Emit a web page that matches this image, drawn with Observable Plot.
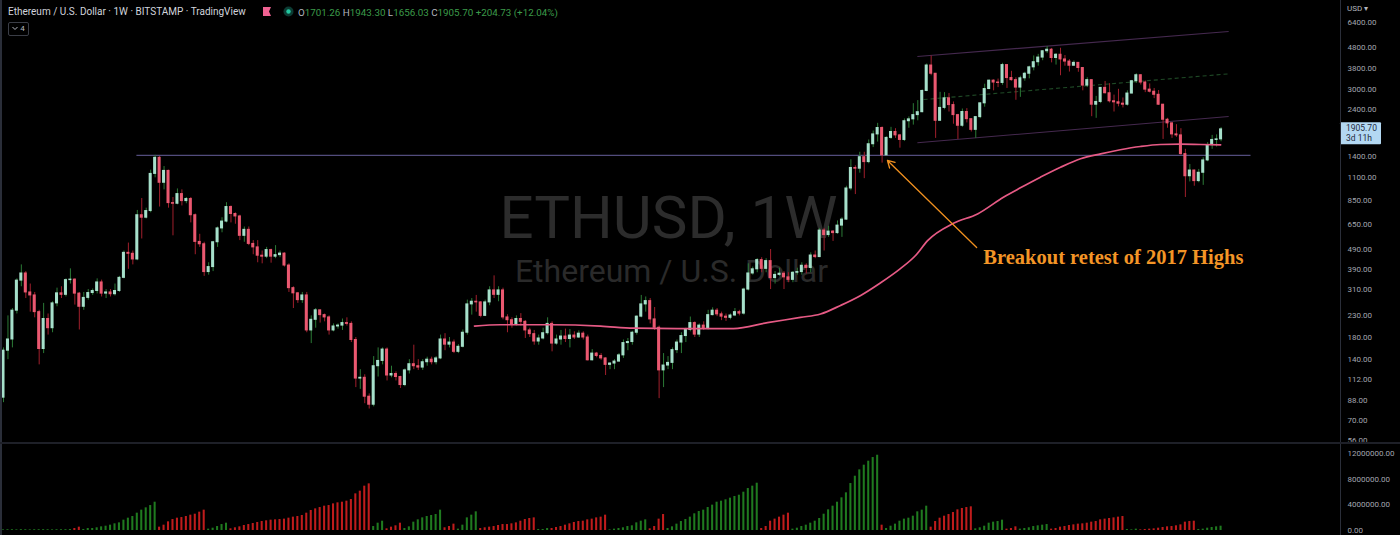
<!DOCTYPE html>
<html><head><meta charset="utf-8">
<script src="https://cdn.jsdelivr.net/npm/d3@7"></script>
<script src="https://cdn.jsdelivr.net/npm/@observablehq/plot@0.6"></script>
<style>
body{margin:0;background:#000;}
#root{position:relative;width:1400px;height:535px;background:#000;overflow:hidden;font-family:Roboto,"Noto Sans",sans-serif;}
#price{position:absolute;left:0;top:0;}
#vol{position:absolute;left:0;top:444px;}
.abs{position:absolute;white-space:nowrap;}
#hdr{left:8px;top:6px;font-size:10px;color:#d1d4dc;}
#ohlc{left:298px;top:7px;font-size:9.8px;color:#b2b5be;}
#ohlc b{font-weight:normal;color:#3c9b4a;}
#vline{left:1340px;top:0;width:1px;height:535px;background:#2a2e39;}
#hline{left:0;top:442px;width:1400px;height:2px;background:#1e2028;}
#lline{left:0;top:0;width:2px;height:535px;background:#2a2e39;}
#usd{left:1347px;top:4px;font-size:8px;color:#b2b5be;}
#box4{left:8px;top:22px;width:19px;height:12px;border:1px solid #3a3d46;border-radius:2px;font-size:8px;color:#b2b5be;line-height:12px;text-align:center;}
</style></head><body>
<div id="root">
  <div id="price"></div>
  <div id="vol"></div>
  <div class="abs" id="lline"></div>
  <div class="abs" id="vline"></div>
  <div class="abs" id="hline"></div>
  <div class="abs" id="hdr">Ethereum / U.S. Dollar · 1W · BITSTAMP · TradingView</div>
  <svg class="abs" style="left:263px;top:7px" width="9" height="10"><path d="M0,0H8L6,4.5L8,9H0Z" fill="#f06292"/></svg>
  <svg class="abs" style="left:283px;top:6px" width="11" height="11"><circle cx="5.5" cy="5.5" r="5" fill="#0c3b33"/><circle cx="5.5" cy="5.5" r="2.2" fill="#22c7a0"/></svg>
  <div class="abs" id="ohlc">O<b>1701.26</b> H<b>1943.30</b> L<b>1656.03</b> C<b>1905.70</b> <b>+204.73 (+12.04%)</b></div>
  <div class="abs" id="box4"><svg width="6" height="5" style="vertical-align:middle"><polyline points="0.5,1 3,3.5 5.5,1" fill="none" stroke="#b2b5be" stroke-width="1"/></svg> 4</div>
  <div class="abs" id="usd">USD ▾</div>
</div>
<script>
// ---- data: weekly ETH/USD candles (index 0 = week of 2017-05-15) ----
const opens = [
91,155,176,244,343,372,300,290,240,158,
222,200,265,297,292,345,347,296,255,282,
298,305,336,296,300,294,305,354,470,465,
436,720,700,755,1150,1380,1040,1190,826,820,
915,845,865,720,532,518,378,400,530,620,
670,790,730,710,570,610,520,500,455,450,
485,450,458,466,407,315,297,275,290,195,
220,245,232,226,195,204,206,212,210,175,
113,114,92,84,130,138,157,117,119,115,
105,124,133,130,128,136,140,136,142,176,
166,170,153,162,190,262,270,268,230,268,
307,292,307,226,219,208,222,215,195,187,
172,178,189,210,168,176,182,177,184,180,
188,180,139,150,146,142,132,134,137,147,
169,171,190,228,262,272,221,201,124,131,
135,156,170,183,196,212,186,206,200,232,
244,234,228,225,231,240,236,310,372,390,
433,392,428,353,366,371,356,346,375,378,
406,396,456,448,605,575,598,588,640,685,
975,1230,1220,1390,1315,1610,1800,1935,1420,1730,
1850,1780,1690,2090,2135,2240,2315,2945,3930,3580,
2100,2430,2710,2510,2240,1985,2320,2140,1895,2190,
2560,3010,3310,3240,3225,3950,3410,3330,3060,3400,
3580,3850,4080,4300,4620,4700,4280,4440,4210,4110,
3920,4050,3820,3130,3330,2520,2600,3050,2870,2620,
2590,2550,2520,2860,3290,3520,3240,2990,2920,2820,
2520,2125,2040,1800,1780,1440,1120,1195,1060,1165,
1340,1595,1690,1701.26];
const closes = [
155,176,244,343,372,300,290,240,158,222,
200,265,297,292,345,347,296,255,282,298,
305,336,296,300,294,305,354,470,465,436,
720,700,755,1150,1380,1040,1190,826,820,915,
845,865,720,532,518,378,400,530,620,670,
790,730,710,570,610,520,500,455,450,485,
450,458,466,407,315,297,275,290,195,220,
245,232,226,195,204,206,212,210,175,113,
114,92,84,130,138,157,117,119,115,105,
124,133,130,128,136,140,136,142,176,166,
170,153,162,190,262,270,268,230,268,307,
292,307,226,219,208,222,215,195,187,172,
178,189,210,168,176,182,177,184,180,188,
180,139,150,146,142,132,134,137,147,169,
171,190,228,262,272,221,201,124,131,135,
156,170,183,196,212,186,206,200,232,244,
234,228,225,231,240,236,310,372,390,433,
392,428,353,366,371,356,346,375,378,406,
396,456,448,605,575,598,588,640,685,975,
1230,1220,1390,1315,1610,1800,1935,1420,1730,1850,
1780,1690,2090,2135,2240,2315,2945,3930,3580,2100,
2430,2710,2510,2240,1985,2320,2140,1895,2190,2560,
3010,3310,3240,3225,3950,3410,3330,3060,3400,3580,
3850,4080,4300,4620,4700,4280,4440,4210,4110,3920,
4050,3820,3130,3330,2520,2600,3050,2870,2620,2590,
2550,2520,2860,3290,3520,3240,2990,2920,2820,2520,
2125,2040,1800,1780,1440,1120,1195,1060,1165,1340,
1595,1690,1701.26,1905.70];
const highs = [
160,230,250,350,410,380,330,300,245,265,
235,270,315,320,350,392,350,300,300,310,
312,350,345,310,310,330,360,480,525,480,
760,870,780,1200,1420,1400,1250,1200,880,970,
960,880,880,730,580,530,420,535,630,700,
830,800,740,720,630,630,540,540,480,500,
490,510,480,470,415,320,300,300,300,230,
250,245,235,230,210,210,222,225,215,180,
125,118,95,145,160,160,160,130,122,116,
126,140,165,140,140,144,144,145,185,188,
180,175,166,196,275,280,290,270,275,320,
362,320,315,233,225,230,236,218,200,195,
185,200,225,215,185,195,198,197,192,194,
192,185,157,152,150,143,135,140,150,175,
178,193,230,290,285,280,253,205,150,145,
160,175,190,200,227,215,210,215,245,252,
250,240,235,235,250,245,315,415,400,440,
445,440,488,380,395,380,375,380,395,420,
415,470,480,620,620,635,605,675,700,1000,
1350,1260,1470,1470,1690,1870,2040,1960,1750,1950,
1920,1800,2145,2195,2550,2640,2980,4000,4380,3590,
2900,2890,2860,2600,2260,2400,2410,2140,2200,2580,
3180,3330,3340,3370,4030,3970,3680,3420,3480,3640,
3900,4380,4460,4660,4870,4770,4500,4780,4400,4200,
4140,4050,3830,3420,3330,2770,3060,3280,3200,2810,
3000,2720,2950,3320,3580,3550,3300,3190,3030,2960,
2530,2160,2050,2010,1920,1520,1280,1200,1210,1380,
1640,1780,1790,1943.30];
const lows = [
86,140,160,235,320,280,240,225,132,150,
185,190,255,280,285,330,260,196,245,275,
290,295,285,280,285,288,300,350,390,410,
430,550,690,740,1100,790,960,780,570,810,
800,820,660,460,500,360,365,380,500,590,
660,660,650,540,530,510,460,420,415,440,
418,440,445,400,300,250,265,265,190,168,
200,212,215,185,192,198,195,205,170,102,
100,85,80,82,115,132,110,114,110,101,
103,119,125,124,124,130,132,132,140,155,
160,150,150,160,185,232,240,225,228,258,
280,270,220,190,200,205,205,178,180,165,
165,175,185,153,165,165,170,160,176,178,
175,138,138,143,139,117,125,125,136,142,
155,165,185,225,240,210,195,90,102,125,
125,150,150,170,192,180,180,195,196,230,
228,218,216,220,228,230,232,305,365,375,
375,375,310,330,360,310,335,335,365,365,
370,375,440,445,480,560,535,580,560,680,
950,910,1160,1090,1290,1550,1650,1300,1410,1700,
1720,1540,1660,1930,2000,2100,2300,2920,3500,1720,
2100,2380,2320,2020,1700,1950,2050,1850,1720,2150,
2450,2990,2950,3060,3140,3030,3290,2650,2740,3290,
3380,3700,3900,4150,4500,4050,3950,3500,3900,3650,
3900,3640,2950,3060,2200,2160,2550,2850,2570,2320,
2460,2430,2480,2850,3210,3150,2890,2880,2700,2500,
1700,1930,1720,1740,1420,880,1050,1000,1040,1010,
1320,1520,1560,1656.03];

// volume indicator (millions) and its colour runs
const volumes = [
0.10,0.12,0.12,0.10,0.13,0.12,0.10,0.12,0.12,0.13,0.12,0.10,0.12,0.12,0.13,0.15,
0.31,0.52,
0.16,0.31,0.31,0.42,0.57,0.67,0.83,1.04,1.19,1.61,1.92,2.18,2.70,3.17,3.53,3.89,4.41,
0.52,0.83,1.35,1.71,1.92,2.02,2.18,2.39,2.54,2.86,3.17,
0.21,0.36,0.62,0.93,1.14,
0.26,0.42,0.57,0.78,0.93,1.09,1.25,1.40,1.51,1.61,1.66,1.71,1.77,1.92,2.08,2.18,2.34,2.70,3.12,3.37,3.58,3.79,3.89,4.15,4.31,4.41,4.57,4.83,5.71,6.13,6.91,7.27,
0.62,1.14,1.45,
0.26,0.52,0.73,1.14,
0.31,0.57,1.30,1.66,1.97,2.18,2.34,2.49,3.17,
0.42,0.62,0.99,
0.21,0.83,1.97,2.39,2.91,
0.31,0.42,0.52,0.62,0.78,0.93,0.93,1.04,1.19,1.45,1.71,1.87,1.97,
0.16,0.16,0.31,
0.31,0.47,0.62,0.83,1.04,1.25,1.40,1.45,1.66,1.77,1.97,2.08,2.39,
0.10,0.21,0.31,0.42,0.62,0.73,1.19,1.45,1.66,
0.26,0.62,1.77,2.49,
0.31,0.57,0.99,1.40,1.71,2.08,2.60,2.96,3.17,3.58,3.95,4.41,4.57,4.78,5.04,5.30,5.50,5.97,6.54,6.91,7.37,
0.31,0.62,1.45,1.77,2.08,2.39,2.70,
0.21,0.36,0.62,0.83,1.14,1.45,1.87,2.54,3.22,3.79,4.41,5.09,5.87,7.32,8.46,9.45,10.18,10.80,11.37,11.73,
0.83,
0.31,0.67,0.99,1.45,1.77,1.92,2.23,2.91,3.17,3.79,
0.52,1.40,1.92,2.23,2.49,2.80,3.22,3.43,3.58,3.69,
0.26,0.42,0.67,1.14,1.30,1.40,1.61,
0.21,0.31,0.57,
0.21,0.31,0.42,0.62,0.73,0.83,0.93,
0.21,0.31,0.52,0.62,0.78,0.88,0.99,1.04,1.14,1.30,1.40,1.66,1.77,1.87,1.97,2.08,2.18,
0.16,0.10,0.21,
0.10,0.16,0.21,0.26,0.36,0.47,0.57,0.62,0.73,0.88,1.30,1.40,1.45,
0.16,0.21,0.36,0.47,0.57,0.67];
const volRuns = [["g",16],["r",2],["g",17],["r",11],["g",5],["r",32],["g",3],["r",4],["g",9],["r",3],["g",5],["r",13],["g",3],["r",13],["g",9],["r",4],["g",21],["r",7],["g",20],["r",1],["g",10],["r",10],["g",7],["r",3],["g",7],["r",17],["g",3],["r",13],["g",6]];

// moving average (candle index, price)
const maIdx = [105.6,111.4,122.6,133.9,141.3,151.1,163.7,171.3,178.7,183.2,187.7,192.2,196.6,201.1,204.5,207.2,213,218.4,224.2,228,232.5,237,241.5,246,250.4,254.9,259.4,263.9,268.4,272.9];
const maVal = [205,208,208,205,200,199,199,213,226,235,259,290,334,393,456,540,657,731,883,982,1108,1240,1365,1444,1512,1569,1605,1611,1605,1599];

// drawings
const levelLine = [{x1:29.8, x2:279.6, p1:1420, p2:1420}];
const channelLines = [
  {x1:204.9, p1:4353, x2:274.7, p2:5779},
  {x1:204.9, p1:1636, x2:274.7, p2:2205}];
const channelMid = [{x1:206.3, p1:2673, x2:274.9, p2:3578}];
const arrowLine = [{x1:218.2, p1:499, x2:198.2, p2:1339}];
const annotation = [{x:219.7, p:446, text:"Breakout retest of 2017 Highs"}];

const priceTicks = [6400,4800,3800,3000,2400,1400,1100,850,650,490,390,310,230,180,140,112,88,70,56];
const volTicks = [0,4,8,12];
const volTickLabels = ["0.00","4000000.00","8000000.00","12000000.00"];
const lastPrice = 1905.70, lastLabel2 = "3d 11h";
const watermark = ["ETHUSD, 1W"], watermarkSub = ["Ethereum / U.S. Dollar"];

// ---- build ----
const candles = closes.map((c,i)=>({i, o:opens[i], h:highs[i], l:lows[i], c, up:c>=opens[i]}));
const ups = candles.filter(d=>d.up), downs = candles.filter(d=>!d.up);
const dirs = volRuns.flatMap(([d,n])=>Array(n).fill(d));
const vols = volumes.map((v,i)=>({i, v, d:dirs[i]}));
const maData = maIdx.map((x,k)=>({x, p:maVal[k]}));

const X = {domain:[-0.6726, 299.78], range:[0,1340], axis:null};
const UPB="#a6e0cb", DNB="#ea5870", UPW="#2b7a36", DNW="#a01f2c", AX="#a3a6af";

const price = Plot.plot({
  width:1400, height:444, marginLeft:0, marginRight:60, marginTop:0, marginBottom:0,
  style:{background:"transparent", color:AX, fontFamily:"Roboto, sans-serif", fontSize:"8px", overflow:"visible"},
  x:X,
  y:{type:"log", domain:[6400,56], range:[22,440], axis:null},
  marks:[
    Plot.text(watermark,{frameAnchor:"top-left", dx:668, dy:195, text:d=>d, fontSize:60, fill:"#2c2c2c", textAnchor:"middle"}),
    Plot.text(watermarkSub,{frameAnchor:"top-left", dx:671, dy:259, text:d=>d, fontSize:32, fill:"#2a2a2a", textAnchor:"middle"}),
    Plot.link(levelLine,{x1:"x1",x2:"x2",y1:"p1",y2:"p2", stroke:"#524c7c", strokeWidth:1.3}),
    Plot.link(channelLines,{x1:"x1",x2:"x2",y1:"p1",y2:"p2", stroke:"#45294f", strokeWidth:1.1}),
    Plot.link(channelMid,{x1:"x1",x2:"x2",y1:"p1",y2:"p2", stroke:"#1f4a26", strokeWidth:1.1, strokeDasharray:"4,3"}),
    Plot.ruleX(ups,{x:"i", y1:"l", y2:"h", stroke:UPW, strokeWidth:1}),
    Plot.ruleX(downs,{x:"i", y1:"l", y2:"h", stroke:DNW, strokeWidth:1}),
    Plot.rect(ups,{x1:d=>d.i-0.34, x2:d=>d.i+0.34, y1:"o", y2:"c", fill:UPB, insetTop:-0.5, insetBottom:-0.5}),
    Plot.rect(downs,{x1:d=>d.i-0.34, x2:d=>d.i+0.34, y1:"o", y2:"c", fill:DNB, insetTop:-0.5, insetBottom:-0.5}),
    Plot.line(maData,{x:"x", y:"p", stroke:"#e65a85", strokeWidth:1.7, curve:"monotone-x"}),
    Plot.arrow(arrowLine,{x1:"x1",y1:"p1",x2:"x2",y2:"p2", stroke:"#f0901f", strokeWidth:1.3, headLength:9}),
    Plot.text(annotation,{x:"x", y:"p", text:"text", textAnchor:"start", fill:"#f39526", fontSize:20.5, fontWeight:"bold", fontFamily:"Liberation Serif, serif"}),
    Plot.text(priceTicks,{y:d=>d, frameAnchor:"right", dx:7, textAnchor:"start", text:d=>d.toFixed(2), fill:AX, fontSize:8})
  ]
});
document.getElementById("price").appendChild(price);

// last price label
const yLast = price.scale("y").apply(lastPrice);
const g = d3.select(price).append("g").attr("text-anchor","start").attr("font-size",8.5).attr("fill","#1e2a3c");
g.append("rect").attr("x",1340).attr("y",yLast-6.5).attr("width",41).attr("height",22).attr("fill","#b3d8f2").attr("rx",1);
g.append("text").attr("x",1346).attr("y",yLast+2.5).text(lastPrice.toFixed(2));
g.append("text").attr("x",1346).attr("y",yLast+12).text(lastLabel2);

const vol = Plot.plot({
  width:1400, height:91, marginLeft:0, marginRight:60, marginTop:0, marginBottom:0,
  style:{background:"transparent", color:AX, fontFamily:"Roboto, sans-serif", fontSize:"8px", overflow:"visible"},
  x:X,
  y:{domain:[0,12], range:[86,9], axis:null},
  marks:[
    Plot.rect(vols.filter(d=>d.d==="g"),{x1:d=>d.i-0.23, x2:d=>d.i+0.23, y1:0, y2:"v", fill:"#1f7a1f"}),
    Plot.rect(vols.filter(d=>d.d==="r"),{x1:d=>d.i-0.23, x2:d=>d.i+0.23, y1:0, y2:"v", fill:"#c01c1c"}),
    Plot.text(volTicks,{y:d=>d, frameAnchor:"right", dx:7, textAnchor:"start", text:(d,k)=>volTickLabels[k], fill:AX, fontSize:8})
  ]
});
document.getElementById("vol").appendChild(vol);
</script>
</body></html>
